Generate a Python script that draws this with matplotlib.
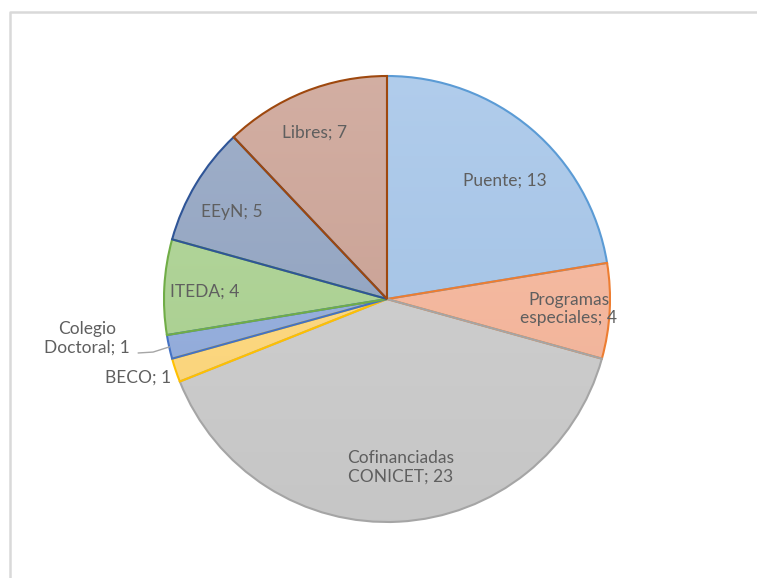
import numpy as np
import matplotlib
matplotlib.use('Agg')
import matplotlib.pyplot as plt
from matplotlib.colors import to_rgb

plt.rcParams['font.family'] = ['Lato', 'DejaVu Sans']

# data
labels = ['Puente', 'Programas\nespeciales', 'Cofinanciadas\nCONICET', 'BECO',
          'Colegio\nDoctoral', 'ITEDA', 'EEyN', 'Libres']
values = [13, 4, 23, 1, 1, 4, 5, 7]
fills = ['#A2C3E8', '#F6B498', '#CBCBCB', '#FFD778', '#8FAADC', '#A9D18E', '#8EA1C0', '#CA9F91']
edges = ['#5B9BD5', '#ED7D31', '#A5A5A5', '#FFC000', '#4472C4', '#70AD47', '#2F5597', '#9E480E']

# label offsets in units of radius (relative to pie centre)
label_pos = [(0.53, 0.53), (0.816, -0.045), (0.063, -0.753), (-1.117, -0.354),
             (-1.345, -0.175), (-0.816, 0.031), (-0.695, 0.39), (-0.323, 0.744)]

W, H = 757, 578
cx, cy, R = 387, 279, 223

fig = plt.figure(figsize=(W/100, H/100), dpi=100)
ax = fig.add_axes([0, 0, 1, 1])

wedges, _ = ax.pie(values, startangle=90, counterclock=False, center=(cx, cy), radius=R,
                   wedgeprops=dict(linewidth=1.5), frame=False)

grad = np.linspace(1, 0, 256)[:, None]
for w, f, e in zip(wedges, fills, edges):
    base = np.array(to_rgb(f))
    top = base + (1 - base) * 0.16
    bot = base * 0.975
    img = top[None, None, :] * grad[:, :, None] + bot[None, None, :] * (1 - grad[:, :, None])
    im = ax.imshow(img, extent=(cx - R, cx + R, cy - R, cy + R), aspect='auto', zorder=1,
                   origin='upper')
    im.set_clip_path(w)
    w.set_facecolor('none')
    w.set_edgecolor(e)
    w.set_zorder(2)

ax.set_xlim(0, W)
ax.set_ylim(0, H)
ax.axis('off')

for i, (lab, v) in enumerate(zip(labels, values)):
    dx, dy = label_pos[i]
    ax.text(cx + dx * R, cy + dy * R, '{}; {}'.format(lab, v), ha='center', va='center',
            fontsize=12.5, color='#5F5F5F', linespacing=1.2, zorder=3)

# leader line for Colegio Doctoral
ang = np.deg2rad((wedges[4].theta1 + wedges[4].theta2) / 2)
ex, ey = cx + R * np.cos(ang), cy + R * np.sin(ang)
ax.plot([cx - 1.115 * R, cx - 1.049 * R, ex], [cy - 0.242 * R, cy - 0.238 * R, ey],
        color='#A6A6A6', lw=1.0, zorder=3)

# chart border
ax.plot([9.5, 9.5, W + 5], [-5, 566.5, 566.5], color='#D9D9D9', lw=1.8, clip_on=False)

fig.savefig('out.png', dpi=100)
